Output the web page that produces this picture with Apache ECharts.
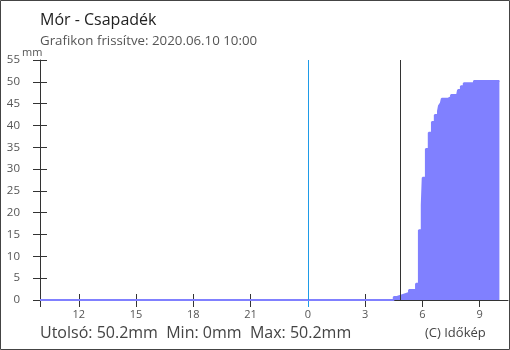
<!DOCTYPE html>
<html><head><meta charset="utf-8">
<script src="https://cdn.jsdelivr.net/npm/echarts@6/dist/echarts.min.js"></script>
<style>html,body{margin:0;padding:0;background:#fff}#c{width:510px;height:350px}</style>
</head><body><div id="c"></div>
<script>
// minutes relative to 2020-06-10 00:00
const stepTimes  = [-842, 270, 280, 299, 318, 340, 349, 358, 361, 371, 380, 390, 399, 409, 412, 418, 421, 440, 450, 469, 472, 481, 490, 522, 602];
const stepValues = [0, 0.7, 1.15, 1.6, 2.3, 3.7, 16.0, 21.8, 28.0, 34.6, 38.3, 40.8, 42.4, 43.3, 44.5, 45.1, 46.1, 46.5, 47.0, 47.4, 48.1, 49.0, 49.7, 50.2, 50.2];
const tickValues = [-720, -540, -360, -180, 0, 180, 360, 540];
const tickLabels = ['12', '15', '18', '21', '0', '3', '6', '9'];
const midnight = 0;
const sunrise = 290;
const xMin = -842, xMax = 629;
const yMax = 55, yStep = 5;

const chart = echarts.init(document.getElementById('c'), null, {renderer: 'canvas'});
const FONT = "'Open Sans', 'Noto Sans', sans-serif";
const AX = '#333';
const baseX = {type: 'value', min: xMin, max: xMax, splitLine: {show: false}};
const baseY = {type: 'value', min: 0, max: yMax, interval: yStep, splitLine: {show: false}};
chart.setOption({
  animation: false,
  grid: {left: 40, right: 2, top: 60, bottom: 50},
  xAxis: [
    Object.assign({}, baseX, {
      position: 'bottom',
      axisLine: {show: true, onZero: false, lineStyle: {color: AX, width: 1}},
      axisTick: {show: true, inside: false, length: 7, lineStyle: {color: AX},
        customValues: [xMin].concat(tickValues.filter(v => v !== midnight))},
      axisLabel: {show: true, margin: 9, color: '#555', fontSize: 11, fontFamily: FONT,
        customValues: tickValues,
        formatter: v => tickLabels[tickValues.indexOf(v)]}
    }),
    Object.assign({}, baseX, {
      position: 'bottom',
      axisLine: {show: false, onZero: false},
      axisTick: {show: true, inside: true, length: 6, lineStyle: {color: AX},
        customValues: tickValues.filter(v => v !== midnight)},
      axisLabel: {show: false}
    }),
    Object.assign({}, baseX, {
      position: 'bottom',
      axisLine: {show: false, onZero: false},
      axisTick: {show: true, inside: false, length: 7, lineStyle: {color: '#1e9be8'},
        customValues: [midnight]},
      axisLabel: {show: false}
    })
  ],
  yAxis: [
    Object.assign({}, baseY, {
      position: 'left',
      axisLine: {show: true, onZero: false, lineStyle: {color: AX}},
      axisTick: {show: true, inside: false, length: 7, lineStyle: {color: AX}},
      axisLabel: {show: true, margin: 20, color: '#555', fontSize: 11.5, fontFamily: FONT}
    }),
    Object.assign({}, baseY, {
      position: 'left',
      axisLine: {show: false, onZero: false},
      axisTick: {show: true, inside: true, length: 7, lineStyle: {color: AX}},
      axisLabel: {show: false}
    })
  ],
  series: [{
    type: 'line',
    xAxisIndex: 0, yAxisIndex: 0,
    step: 'end',
    symbol: 'none',
    data: stepTimes.map((t, i) => [t, stepValues[i]]),
    lineStyle: {color: '#8080ff', width: 2},
    areaStyle: {color: '#8080ff', opacity: 1},
    z: 1,
    markLine: {
      silent: true, symbol: 'none', label: {show: false},
      data: [
        {xAxis: midnight, lineStyle: {color: '#1e9be8', width: 1, type: 'solid'}},
        {xAxis: sunrise, lineStyle: {color: AX, width: 1, type: 'solid'}}
      ]
    }
  }],
  graphic: [
    {type: 'rect', shape: {x: 0.5, y: 0.5, width: 509, height: 349}, style: {fill: 'none', stroke: '#444', lineWidth: 1}},
    {type: 'text', x: 40, y: 20, style: {text: 'Mór - Csapadék', font: "16px " + FONT, fill: '#222', verticalAlign: 'middle'}},
    {type: 'text', x: 40, y: 41, style: {text: 'Grafikon frissítve: 2020.06.10 10:00', font: "13.3px " + FONT, fill: '#555', verticalAlign: 'middle'}},
    {type: 'text', x: 22, y: 53, style: {text: 'mm', font: "11px " + FONT, fill: '#555', verticalAlign: 'middle'}},
    {type: 'text', x: 40, y: 333, style: {text: 'Utolsó: 50.2mm  Min: 0mm  Max: 50.2mm', font: "16px " + FONT, fill: '#444', verticalAlign: 'middle'}},
    {type: 'text', x: 425, y: 333, style: {text: '(C) Időkép', font: "13px " + FONT, fill: '#444', verticalAlign: 'middle'}}
  ]
});
</script></body></html>
